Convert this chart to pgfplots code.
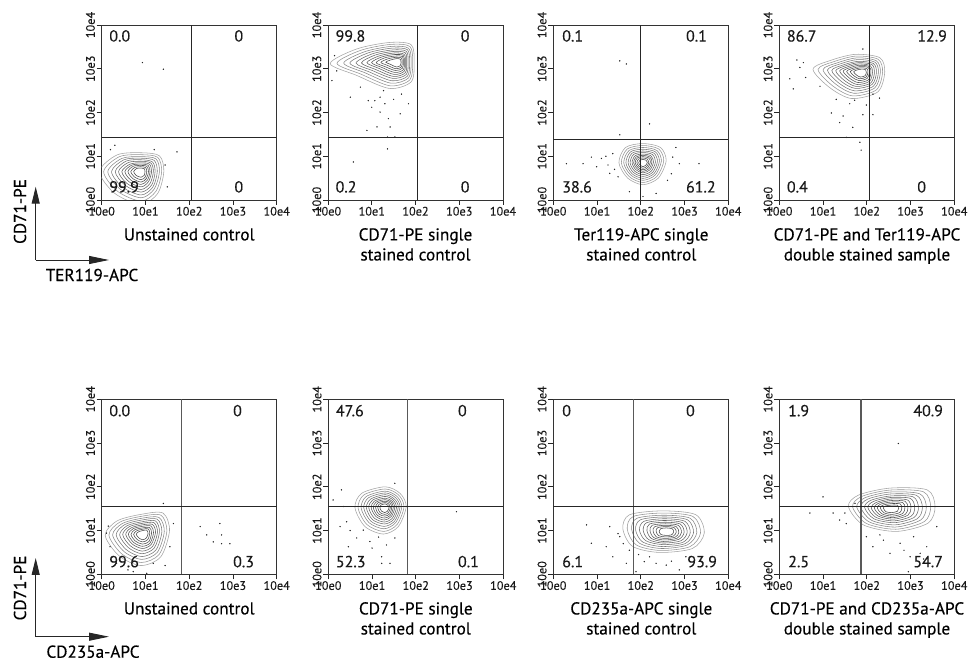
\documentclass[border=0pt]{standalone}
\usepackage{pgfplots}
\pgfplotsset{compat=1.18}
\usetikzlibrary{arrows.meta}
\usepackage{fontspec}
\setmainfont{PT Sans}[FakeBold=0.35]
\pgfplotsset{
 flow/.style={
  width=175pt,height=175pt,scale only axis,
  xmin=0,xmax=4,ymin=0,ymax=4,
  xtick={0,1,2,3,4},ytick={0,1,2,3,4},
  xticklabels={10e0,10e1,10e2,10e3,10e4},
  yticklabels={10e0,10e1,10e2,10e3,10e4},
  tick align=outside, tick pos=left,
  major tick length=5pt,
  tick style={black!85,line width=0.8pt},
  axis line style={black!80,line width=0.8pt},
  tick label style={font=\fontsize{12.3}{13}\selectfont, text=black!90},
  yticklabel style={rotate=90,anchor=south,inner sep=1.6pt},
  xticklabel style={inner sep=1.6pt},
  anchor=south west,
 },
 k1/.style={smooth cycle,draw=black!36,line width=0.55pt},
 k2/.style={smooth cycle,draw=black!42,line width=0.55pt},
 k3/.style={smooth cycle,draw=black!48,line width=0.55pt},
 k4/.style={smooth cycle,draw=black!53,line width=0.55pt},
 k5/.style={smooth cycle,draw=black!57,line width=0.55pt},
 k6/.style={smooth cycle,draw=black!61,line width=0.55pt},
 k7/.style={smooth cycle,draw=black!64,line width=0.55pt},
 k8/.style={smooth cycle,draw=black!67,line width=0.55pt},
 k9/.style={smooth cycle,draw=black!69,line width=0.55pt},
 k10/.style={smooth cycle,draw=black!71,line width=0.55pt},
 k11/.style={smooth cycle,draw=black!73,line width=0.55pt},
 dots/.style={only marks,mark=*,mark size=0.45pt,black!85},
 gateA/.style={black!85,line width=0.9pt},
 gateV/.style={black!65,line width=1.4pt},
 gateH/.style={black!85,line width=0.8pt},
}
\tikzset{qn/.style={font=\fontsize{16}{18}\selectfont,text=black!90,inner sep=0pt}}
\newcommand\ttl{\fontsize{17.2}{20}\selectfont}
\begin{document}
\begin{tikzpicture}[x=1pt,y=1pt]
\path[use as bounding box] (0pt,0pt) rectangle (975pt,664pt);

% ---------------- Row 1 ----------------
\begin{axis}[flow,at={(101.7pt,464pt)}]
\addplot[k1] coordinates {(1.42,0.65)(1.32,1.01)(0.9,1.08)(0.35,1.03)(-0.05,0.65)(0.3,0.15)(0.9,-0.1)(1.28,0.15)};
\addplot[k2] coordinates {(1.37,.65)(1.28,.975)(.9,1.035)(.405,.99)(.045,.65)(.36,.2)(.9,-.025)(1.24,.2)};
\addplot[k3] coordinates {(1.32,0.65)(1.24,0.94)(0.9,0.99)(0.46,0.95)(0.14,0.65)(0.42,0.25)(0.9,0.05)(1.20,0.25)};
\addplot[k4] coordinates {(1.27,.65)(1.20,.905)(.9,.955)(.51,.92)(.225,.65)(.475,.295)(.9,.115)(1.17,.295)};
\addplot[k5] coordinates {(1.22,.65)(1.16,.87)(.9,.92)(.56,.89)(.31,.65)(.53,.34)(.9,.18)(1.14,.34)};
\addplot[k6] coordinates {(1.18,.65)(1.125,.845)(.9,.885)(.605,.855)(.385,.65)(.575,.38)(.9,.24)(1.105,.38)};
\addplot[k7] coordinates {(1.14,.65)(1.09,.82)(.9,.85)(.65,.82)(.46,.65)(.62,.42)(.9,.30)(1.07,.42)};
\addplot[k8] coordinates {(1.105,.65)(1.06,.795)(.9,.82)(.685,.795)(.53,.65)(.665,.455)(.9,.355)(1.045,.455)};
\addplot[k9] coordinates {(1.07,.65)(1.03,.77)(.9,.79)(.72,.77)(.6,.65)(.71,.49)(.9,.41)(1.02,.49)};
\addplot[k10] coordinates {(1.03,.65)(1.005,.74)(.9,.76)(.76,.745)(.665,.65)(.75,.525)(.9,.465)(.995,.525)};
\addplot[k11] coordinates {(.99,.65)(.98,.71)(.9,.73)(.8,.72)(.73,.65)(.79,.56)(.9,.52)(.97,.56)};
\addplot[dots] coordinates {(0.93,3.14)(1.41,2.99)(0.3,1.25)(1.72,1.1)(1.45,0.8)(1.5,0.3)(0.2,1.15)(1.2,1.15)};
\addplot[gateA] coordinates {(2.06,0)(2.06,4)};
\addplot[gateA] coordinates {(0,1.42)(4,1.42)};
\node[qn,anchor=west] at (axis cs:0.17,3.75) {0.0};
\node[qn,anchor=west] at (axis cs:3.03,3.75) {0};
\node[qn,anchor=west] at (axis cs:0.17,0.30) {99.9};
\node[qn,anchor=west] at (axis cs:3.03,0.30) {0};
\end{axis}

\begin{axis}[flow,at={(328pt,464pt)}]
\addplot[k1] coordinates {(1.97,3.15)(1.9,3.55)(1.4,3.6)(0.65,3.45)(0.05,3.12)(0.65,2.85)(1.4,2.55)(1.9,2.7)};
\addplot[k2] coordinates {(1.935,3.15)(1.87,3.51)(1.42,3.555)(.745,3.42)(.205,3.125)(.745,2.88)(1.42,2.61)(1.87,2.745)};
\addplot[k3] coordinates {(1.90,3.15)(1.84,3.47)(1.44,3.51)(0.84,3.39)(0.36,3.13)(0.84,2.91)(1.44,2.67)(1.84,2.79)};
\addplot[k4] coordinates {(1.865,3.15)(1.815,3.435)(1.46,3.47)(.925,3.365)(.5,3.13)(.925,2.935)(1.46,2.725)(1.815,2.83)};
\addplot[k5] coordinates {(1.83,3.15)(1.79,3.40)(1.48,3.43)(1.01,3.34)(0.64,3.13)(1.01,2.96)(1.48,2.78)(1.79,2.87)};
\addplot[k6] coordinates {(1.8,3.15)(1.765,3.365)(1.495,3.395)(1.085,3.315)(.765,3.135)(1.085,2.985)(1.495,2.825)(1.765,2.905)};
\addplot[k7] coordinates {(1.77,3.15)(1.74,3.33)(1.51,3.36)(1.16,3.29)(0.89,3.14)(1.16,3.01)(1.51,2.87)(1.74,2.94)};
\addplot[k8] coordinates {(1.745,3.15)(1.72,3.305)(1.525,3.325)(1.23,3.27)(.995,3.14)(1.23,3.03)(1.525,2.915)(1.72,2.975)};
\addplot[k9] coordinates {(1.72,3.15)(1.70,3.28)(1.54,3.29)(1.30,3.25)(1.10,3.14)(1.30,3.05)(1.54,2.96)(1.70,3.01)};
\addplot[k10] coordinates {(1.695,3.15)(1.675,3.25)(1.55,3.26)(1.365,3.225)(1.21,3.145)(1.365,3.075)(1.55,3.0)(1.675,3.04)};
\addplot[k11] coordinates {(1.67,3.15)(1.65,3.22)(1.56,3.23)(1.43,3.20)(1.32,3.15)(1.43,3.10)(1.56,3.04)(1.65,3.07)};
\addplot[dots] coordinates {(0.09,2.73)(0.51,2.35)(0.92,2.27)(1.0,2.12)(1.19,2.01)(1.38,1.86)(1.42,1.67)(1.12,1.67)(0.89,1.59)(1.53,1.44)(1.36,1.44)(1.36,1.17)(0.58,0.87)(1.84,2.2)(1.68,2.42)(1.27,2.5)(0.74,2.58)(1.07,2.27)(1.65,1.97)(1.19,2.35)(0.15,3.3)(0.2,2.95)(1.5,2.3)(1.3,2.2)};
\addplot[gateA] coordinates {(2.04,0)(2.04,4)};
\addplot[gateA] coordinates {(0,1.42)(4,1.42)};
\node[qn,anchor=west] at (axis cs:0.17,3.75) {99.8};
\node[qn,anchor=west] at (axis cs:3.03,3.75) {0};
\node[qn,anchor=west] at (axis cs:0.17,0.30) {0.2};
\node[qn,anchor=west] at (axis cs:3.03,0.30) {0};
\end{axis}

\begin{axis}[flow,at={(553.3pt,464pt)}]
\addplot[k1] coordinates {(2.58,0.9)(2.45,1.2)(2.05,1.29)(1.65,1.2)(1.5,0.85)(1.7,0.5)(2.05,0.35)(2.4,0.5)};
\addplot[k2] coordinates {(2.525,.895)(2.41,1.165)(2.05,1.245)(1.69,1.165)(1.555,.85)(1.735,.535)(2.05,.4)(2.365,.535)};
\addplot[k3] coordinates {(2.47,.89)(2.37,1.13)(2.05,1.20)(1.73,1.13)(1.61,.85)(1.77,.57)(2.05,.45)(2.33,.57)};
\addplot[k4] coordinates {(2.425,.885)(2.335,1.1)(2.05,1.16)(1.765,1.1)(1.66,.85)(1.8,.6)(2.05,.495)(2.3,.6)};
\addplot[k5] coordinates {(2.38,.88)(2.30,1.07)(2.05,1.12)(1.80,1.07)(1.71,.85)(1.83,.63)(2.05,.54)(2.27,.63)};
\addplot[k6] coordinates {(2.335,.875)(2.265,1.04)(2.05,1.085)(1.835,1.04)(1.755,.85)(1.86,.66)(2.05,.58)(2.24,.66)};
\addplot[k7] coordinates {(2.29,.87)(2.23,1.01)(2.05,1.05)(1.87,1.01)(1.80,.85)(1.89,.69)(2.05,.62)(2.21,.69)};
\addplot[k8] coordinates {(2.255,.87)(2.205,.985)(2.05,1.02)(1.895,.985)(1.835,.85)(1.915,.715)(2.05,.655)(2.185,.715)};
\addplot[k9] coordinates {(2.22,.87)(2.18,.96)(2.05,.99)(1.92,.96)(1.87,.85)(1.94,.74)(2.05,.69)(2.16,.74)};
\addplot[k10] coordinates {(2.185,.865)(2.15,.935)(2.05,.96)(1.95,.935)(1.91,.85)(1.965,.765)(2.05,.725)(2.135,.765)};
\addplot[k11] coordinates {(2.15,.86)(2.12,.91)(2.05,.93)(1.98,.91)(1.95,.85)(1.99,.79)(2.05,.76)(2.11,.79)};
\addplot[dots] coordinates {(1.52,3.18)(1.67,3.11)(1.52,1.49)(2.2,1.74)(0.3,0.83)(0.68,0.83)(0.87,0.98)(1.1,0.95)(1.25,0.8)(1.29,0.61)(1.36,1.06)(2.73,0.98)(2.88,0.83)(3.33,0.83)(2.35,0.15)(2.05,0.08)(1.74,0.19)(2.61,0.45)(0.99,0.76)(2.8,1.2)(1.48,0.53)(1.4,0.7)(1.2,1.0)(2.7,0.6)};
\addplot[gateA] coordinates {(1.99,0)(1.99,4)};
\addplot[gateA] coordinates {(0,1.38)(4,1.38)};
\node[qn,anchor=west] at (axis cs:0.2,3.75) {0.1};
\node[qn,anchor=west] at (axis cs:3.03,3.75) {0.1};
\node[qn,anchor=west] at (axis cs:0.2,0.30) {38.6};
\node[qn,anchor=west] at (axis cs:3.03,0.30) {61.2};
\end{axis}

\begin{axis}[flow,at={(779.3pt,464pt)}]
\addplot[k1] coordinates {(2.41,2.92)(2.3,3.25)(1.75,3.33)(1.2,3.2)(0.77,2.99)(1.15,2.57)(1.65,2.32)(2.25,2.47)};
\addplot[k2] coordinates {(2.36,2.92)(2.26,3.215)(1.765,3.29)(1.27,3.17)(.885,2.985)(1.225,2.605)(1.675,2.38)(2.215,2.515)};
\addplot[k3] coordinates {(2.31,2.92)(2.22,3.18)(1.78,3.25)(1.34,3.14)(1.0,2.98)(1.30,2.64)(1.70,2.44)(2.18,2.56)};
\addplot[k4] coordinates {(2.265,2.92)(2.185,3.15)(1.795,3.21)(1.405,3.115)(1.1,2.97)(1.365,2.67)(1.72,2.495)(2.15,2.6)};
\addplot[k5] coordinates {(2.22,2.92)(2.15,3.12)(1.81,3.17)(1.47,3.09)(1.20,2.96)(1.43,2.70)(1.74,2.55)(2.12,2.64)};
\addplot[k6] coordinates {(2.175,2.92)(2.115,3.095)(1.82,3.14)(1.525,3.07)(1.29,2.955)(1.49,2.73)(1.76,2.595)(2.09,2.675)};
\addplot[k7] coordinates {(2.13,2.92)(2.08,3.07)(1.83,3.11)(1.58,3.05)(1.38,2.95)(1.55,2.76)(1.78,2.64)(2.06,2.71)};
\addplot[k8] coordinates {(2.095,2.92)(2.055,3.05)(1.84,3.08)(1.63,3.03)(1.46,2.945)(1.605,2.785)(1.8,2.685)(2.035,2.745)};
\addplot[k9] coordinates {(2.06,2.92)(2.03,3.03)(1.85,3.05)(1.68,3.01)(1.54,2.94)(1.66,2.81)(1.82,2.73)(2.01,2.78)};
\addplot[k10] coordinates {(2.025,2.92)(2.0,3.005)(1.86,3.02)(1.725,2.99)(1.62,2.935)(1.71,2.835)(1.835,2.77)(1.985,2.81)};
\addplot[k11] coordinates {(1.99,2.92)(1.97,2.98)(1.87,2.99)(1.77,2.97)(1.70,2.93)(1.76,2.86)(1.85,2.81)(1.96,2.84)};
\addplot[dots] coordinates {(0.24,2.77)(0.32,2.54)(0.47,3.03)(0.55,3.14)(0.93,2.6)(1.19,1.99)(1.46,1.92)(1.38,1.77)(1.68,1.66)(1.53,1.43)(1.84,1.32)(1.87,1.14)(1.91,1.95)(2.14,1.95)(1.99,2.17)(1.72,2.28)(2.29,2.33)(2.14,2.42)(1.91,3.45)(1.61,2.2)(0.6,2.8)(0.4,3.2)(1.3,2.3)};
\addplot[gateA] coordinates {(2.05,0)(2.05,4)};
\addplot[gateA] coordinates {(0,1.42)(4,1.42)};
\node[qn,anchor=west] at (axis cs:0.17,3.75) {86.7};
\node[qn,anchor=west] at (axis cs:3.15,3.75) {12.9};
\node[qn,anchor=west] at (axis cs:0.17,0.30) {0.4};
\node[qn,anchor=west] at (axis cs:3.15,0.30) {0};
\end{axis}

% ---------------- Row 2 ----------------
\begin{axis}[flow,at={(101.7pt,89.7pt)}]
\addplot[k1] coordinates {(1.55,1.0)(1.4,1.4)(0.9,1.37)(0.35,1.22)(0.08,0.89)(0.4,0.42)(0.9,0.2)(1.35,0.4)};
\addplot[k2] coordinates {(1.49,.99)(1.355,1.35)(.905,1.325)(.41,1.19)(.165,.895)(.455,.47)(.905,.27)(1.31,.45)};
\addplot[k3] coordinates {(1.43,.98)(1.31,1.30)(.91,1.28)(.47,1.16)(.25,.90)(.51,.52)(.91,.34)(1.27,.50)};
\addplot[k4] coordinates {(1.375,.975)(1.27,1.26)(.915,1.24)(.525,1.135)(.33,.9)(.56,.565)(.915,.405)(1.235,.55)};
\addplot[k5] coordinates {(1.32,.97)(1.23,1.22)(.92,1.20)(.58,1.11)(.41,.90)(.61,.61)(.92,.47)(1.20,.60)};
\addplot[k6] coordinates {(1.275,.965)(1.195,1.18)(.925,1.165)(.625,1.085)(.48,.905)(.655,.65)(.925,.53)(1.165,.64)};
\addplot[k7] coordinates {(1.23,.96)(1.16,1.14)(.93,1.13)(.67,1.06)(.55,.91)(.70,.69)(.93,.59)(1.13,.68)};
\addplot[k8] coordinates {(1.185,.955)(1.125,1.105)(.93,1.095)(.715,1.04)(.61,.91)(.735,.725)(.93,.64)(1.105,.715)};
\addplot[k9] coordinates {(1.14,.95)(1.09,1.07)(.93,1.06)(.76,1.02)(.67,.91)(.77,.76)(.93,.69)(1.08,.75)};
\addplot[k10] coordinates {(1.1,.94)(1.06,1.04)(.935,1.03)(.8,.995)(.73,.91)(.81,.795)(.935,.74)(1.05,.79)};
\addplot[k11] coordinates {(1.06,.93)(1.03,1.01)(.94,1.00)(.84,.97)(.79,.91)(.85,.83)(.94,.79)(1.02,.83)};
\addplot[dots] coordinates {(2.25,1.09)(2.4,0.9)(2.7,1.16)(2.74,0.9)(2.74,0.7)(2.93,0.7)(2.55,0.74)(1.41,1.62)(0.11,0.94)(0.19,0.63)(0.72,0.06)(1.18,0.25)(1.56,0.63)(1.64,1.16)(0.34,0.25)(1.03,0.02)(0.15,1.1)(0.25,0.4)(1.45,0.2)(0.6,0.1)};
\addplot[gateV] coordinates {(1.83,0)(1.83,4)};
\addplot[gateH] coordinates {(0,1.545)(4,1.545)};
\node[qn,anchor=west] at (axis cs:0.17,3.74) {0.0};
\node[qn,anchor=west] at (axis cs:3.0,3.74) {0};
\node[qn,anchor=west] at (axis cs:0.17,0.29) {99.6};
\node[qn,anchor=west] at (axis cs:3.0,0.29) {0.3};
\end{axis}

\begin{axis}[flow,at={(328.3pt,89.7pt)}]
\addplot[k1] coordinates {(1.78,1.55)(1.64,1.85)(1.3,2.0)(0.76,1.85)(0.61,1.52)(0.84,1.09)(1.26,0.92)(1.6,1.09)};
\addplot[k2] coordinates {(1.73,1.545)(1.605,1.815)(1.3,1.95)(.815,1.815)(.68,1.52)(.885,1.135)(1.265,.98)(1.57,1.135)};
\addplot[k3] coordinates {(1.68,1.54)(1.57,1.78)(1.30,1.90)(.87,1.78)(.75,1.52)(.93,1.18)(1.27,1.04)(1.54,1.18)};
\addplot[k4] coordinates {(1.64,1.54)(1.54,1.75)(1.3,1.86)(.92,1.75)(.81,1.52)(.97,1.215)(1.275,1.095)(1.515,1.215)};
\addplot[k5] coordinates {(1.60,1.54)(1.51,1.72)(1.30,1.82)(.97,1.72)(.87,1.52)(1.01,1.25)(1.28,1.15)(1.49,1.25)};
\addplot[k6] coordinates {(1.56,1.535)(1.485,1.695)(1.3,1.78)(1.01,1.695)(.925,1.52)(1.05,1.285)(1.28,1.195)(1.465,1.285)};
\addplot[k7] coordinates {(1.52,1.53)(1.46,1.67)(1.30,1.74)(1.05,1.67)(.98,1.52)(1.09,1.32)(1.28,1.24)(1.44,1.32)};
\addplot[k8] coordinates {(1.485,1.53)(1.435,1.65)(1.3,1.705)(1.09,1.65)(1.03,1.52)(1.12,1.35)(1.285,1.285)(1.42,1.35)};
\addplot[k9] coordinates {(1.45,1.53)(1.41,1.63)(1.30,1.67)(1.13,1.63)(1.08,1.52)(1.15,1.38)(1.29,1.33)(1.40,1.38)};
\addplot[k10] coordinates {(1.42,1.53)(1.385,1.605)(1.3,1.64)(1.165,1.605)(1.13,1.52)(1.185,1.41)(1.29,1.37)(1.375,1.41)};
\addplot[k11] coordinates {(1.39,1.53)(1.36,1.58)(1.30,1.61)(1.20,1.58)(1.18,1.52)(1.22,1.44)(1.29,1.41)(1.35,1.44)};
\addplot[dots] coordinates {(0.11,1.7)(0.3,1.93)(0.42,1.2)(0.46,0.63)(0.65,0.83)(0.95,0.75)(1.22,0.25)(1.41,0.25)(1.22,0.4)(1.33,0.67)(1.52,0.83)(2.93,1.43)(1.52,2.08)(0.5,1.0)(0.27,1.09)(0.8,1.01)(0.35,1.55)(1.0,0.6)(1.15,0.85)};
\addplot[gateV] coordinates {(1.81,0)(1.81,4)};
\addplot[gateH] coordinates {(0,1.545)(4,1.545)};
\node[qn,anchor=west] at (axis cs:0.17,3.74) {47.6};
\node[qn,anchor=west] at (axis cs:2.96,3.74) {0};
\node[qn,anchor=west] at (axis cs:0.17,0.29) {52.3};
\node[qn,anchor=west] at (axis cs:2.96,0.29) {0.1};
\end{axis}

\begin{axis}[flow,at={(553.3pt,89.7pt)}]
\addplot[k1] coordinates {(3.45,0.94)(3.26,1.36)(2.5,1.45)(1.74,1.36)(1.59,1.04)(1.81,0.64)(2.42,0.5)(3.18,0.59)};
\addplot[k2] coordinates {(3.365,.945)(3.195,1.32)(2.51,1.4)(1.825,1.32)(1.69,1.035)(1.89,.675)(2.44,.545)(3.12,.63)};
\addplot[k3] coordinates {(3.28,.95)(3.13,1.28)(2.52,1.35)(1.91,1.28)(1.79,1.03)(1.97,.71)(2.46,.59)(3.06,.67)};
\addplot[k4] coordinates {(3.205,.95)(3.07,1.245)(2.53,1.31)(1.99,1.245)(1.88,1.02)(2.04,.74)(2.475,.635)(3.01,.7)};
\addplot[k5] coordinates {(3.13,.95)(3.01,1.21)(2.54,1.27)(2.07,1.21)(1.97,1.01)(2.11,.77)(2.49,.68)(2.96,.73)};
\addplot[k6] coordinates {(3.06,.955)(2.955,1.18)(2.545,1.23)(2.135,1.18)(2.055,1.005)(2.175,.795)(2.505,.715)(2.915,.765)};
\addplot[k7] coordinates {(2.99,.96)(2.90,1.15)(2.55,1.19)(2.20,1.15)(2.14,1.00)(2.24,.82)(2.52,.75)(2.87,.80)};
\addplot[k8] coordinates {(2.93,.96)(2.855,1.12)(2.56,1.155)(2.26,1.12)(2.21,.995)(2.295,.84)(2.53,.785)(2.83,.825)};
\addplot[k9] coordinates {(2.87,.96)(2.81,1.09)(2.57,1.12)(2.32,1.09)(2.28,.99)(2.35,.86)(2.54,.82)(2.79,.85)};
\addplot[k10] coordinates {(2.81,.965)(2.765,1.065)(2.575,1.09)(2.385,1.065)(2.35,.985)(2.405,.885)(2.555,.855)(2.745,.875)};
\addplot[k11] coordinates {(2.75,.97)(2.72,1.04)(2.58,1.06)(2.45,1.04)(2.42,.98)(2.46,.91)(2.57,.89)(2.70,.90)};
\addplot[dots] coordinates {(0.76,1.13)(0.87,0.71)(1.29,1.09)(1.48,0.93)(1.67,0.25)(1.74,0.55)(2.35,0.25)(2.58,0.21)(2.88,0.1)(2.08,0.29)(1.52,0.86)(1.21,0.63)(1.36,0.4)(1.89,0.06)(3.03,0.4)(1.6,0.7)(2.2,0.4)(2.7,0.3)(1.95,0.45)};
\addplot[gateV] coordinates {(1.83,0)(1.83,4)};
\addplot[gateH] coordinates {(0,1.545)(4,1.545)};
\node[qn,anchor=west] at (axis cs:0.2,3.74) {0};
\node[qn,anchor=west] at (axis cs:3.03,3.74) {0};
\node[qn,anchor=west] at (axis cs:0.2,0.29) {6.1};
\node[qn,anchor=west] at (axis cs:3.06,0.29) {93.9};
\end{axis}

\begin{axis}[flow,at={(779.3pt,89.7pt)}]
\addplot[k1] coordinates {(3.56,1.55)(3.38,1.93)(2.53,1.97)(1.81,1.81)(1.58,1.55)(1.92,1.13)(2.68,0.98)(3.40,1.17)};
\addplot[k2] coordinates {(3.46,1.545)(3.295,1.885)(2.53,1.925)(1.885,1.78)(1.675,1.545)(1.985,1.165)(2.665,1.03)(3.315,1.205)};
\addplot[k3] coordinates {(3.36,1.54)(3.21,1.84)(2.53,1.88)(1.96,1.75)(1.77,1.54)(2.05,1.20)(2.65,1.08)(3.23,1.24)};
\addplot[k4] coordinates {(3.27,1.535)(3.135,1.805)(2.535,1.835)(2.025,1.72)(1.86,1.535)(2.105,1.235)(2.64,1.13)(3.155,1.27)};
\addplot[k5] coordinates {(3.18,1.53)(3.06,1.77)(2.54,1.79)(2.09,1.69)(1.95,1.53)(2.16,1.27)(2.63,1.18)(3.08,1.30)};
\addplot[k6] coordinates {(3.095,1.525)(2.995,1.735)(2.54,1.755)(2.15,1.665)(2.025,1.525)(2.21,1.3)(2.62,1.22)(3.01,1.325)};
\addplot[k7] coordinates {(3.01,1.52)(2.93,1.70)(2.54,1.72)(2.21,1.64)(2.10,1.52)(2.26,1.33)(2.61,1.26)(2.94,1.35)};
\addplot[k8] coordinates {(2.94,1.52)(2.875,1.67)(2.54,1.685)(2.26,1.62)(2.17,1.52)(2.305,1.355)(2.6,1.295)(2.88,1.37)};
\addplot[k9] coordinates {(2.87,1.52)(2.82,1.64)(2.54,1.65)(2.31,1.60)(2.24,1.52)(2.35,1.38)(2.59,1.33)(2.82,1.39)};
\addplot[k10] coordinates {(2.8,1.515)(2.76,1.61)(2.545,1.615)(2.365,1.58)(2.31,1.515)(2.395,1.405)(2.58,1.37)(2.76,1.415)};
\addplot[k11] coordinates {(2.73,1.51)(2.70,1.58)(2.55,1.58)(2.42,1.56)(2.38,1.51)(2.44,1.43)(2.57,1.41)(2.70,1.44)};
\addplot[dots] coordinates {(1.0,1.77)(0.7,1.4)(1.23,1.4)(1.38,1.24)(1.53,1.16)(1.99,0.86)(2.14,0.63)(2.53,0.48)(2.76,0.71)(2.99,0.4)(3.22,0.48)(3.37,0.63)(3.6,1.09)(2.72,2.99)(2.38,0.78)(3.07,0.86)(2.95,0.06)(1.73,1.62)(1.5,1.4)(2.3,0.9)(2.85,0.55)(3.3,0.35)};
\addplot[gateV] coordinates {(1.87,0)(1.87,4)};
\addplot[gateH] coordinates {(0,1.545)(4,1.545)};
\node[qn,anchor=west] at (axis cs:0.2,3.74) {1.9};
\node[qn,anchor=west] at (axis cs:3.06,3.74) {40.9};
\node[qn,anchor=west] at (axis cs:0.2,0.29) {2.5};
\node[qn,anchor=west] at (axis cs:3.06,0.29) {54.7};
\end{axis}

% ---------------- titles ----------------
\node[anchor=north,align=center,inner sep=0pt,font=\ttl] at (189.2pt,436pt) {Unstained control};
\node[anchor=north,align=center,inner sep=0pt,font=\ttl] at (415.5pt,436pt) {CD71-PE single\\stained control};
\node[anchor=north,align=center,inner sep=0pt,font=\ttl] at (641.3pt,436pt) {Ter119-APC single\\stained control};
\node[anchor=north,align=center,inner sep=0pt,font=\ttl] at (867pt,436pt) {CD71-PE and Ter119-APC\\double stained sample};
\node[anchor=north,align=center,inner sep=0pt,font=\ttl] at (189.2pt,62pt) {Unstained control};
\node[anchor=north,align=center,inner sep=0pt,font=\ttl] at (415.8pt,62pt) {CD71-PE single\\stained control};
\node[anchor=north,align=center,inner sep=0pt,font=\ttl] at (641.3pt,62pt) {CD235a-APC single\\stained control};
\node[anchor=north,align=center,inner sep=0pt,font=\ttl] at (867pt,62pt) {CD71-PE and CD235a-APC\\double stained sample};

% ---------------- axis arrows ----------------
\draw[line width=0.9pt,black!85,-{Triangle[length=17pt,width=8pt]}] (35.7pt,404pt) -- (35.7pt,477.3pt);
\draw[line width=0.9pt,black!85,-{Triangle[length=20pt,width=8pt]}] (35.7pt,404pt) -- (109pt,404pt);
\node[rotate=90,font=\ttl,inner sep=0pt] at (20pt,452.5pt) {CD71-PE};
\node[font=\ttl,inner sep=0pt] at (92pt,389pt) {TER119-APC};
\draw[line width=0.9pt,black!85,-{Triangle[length=17pt,width=8pt]}] (35.7pt,27.3pt) -- (35.7pt,106pt);
\draw[line width=0.9pt,black!85,-{Triangle[length=20pt,width=8pt]}] (35.7pt,27.3pt) -- (109pt,27.3pt);
\node[rotate=90,font=\ttl,inner sep=0pt] at (20pt,76pt) {CD71-PE};
\node[font=\ttl,inner sep=0pt] at (93pt,12.3pt) {CD235a-APC};
\end{tikzpicture}
\end{document}
